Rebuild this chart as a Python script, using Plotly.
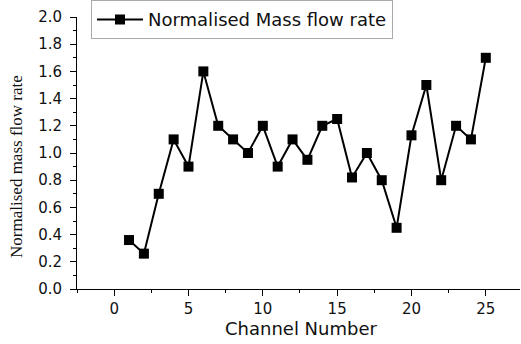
import plotly.graph_objects as go

channels = list(range(1, 26))
flow = [0.36, 0.26, 0.70, 1.10, 0.90, 1.60, 1.20, 1.10, 1.00, 1.20,
        0.90, 1.10, 0.95, 1.20, 1.25, 0.82, 1.00, 0.80, 0.45, 1.13,
        1.50, 0.80, 1.20, 1.10, 1.70]
x_ticks = [0, 5, 10, 15, 20, 25]
y_ticks = [0.0, 0.2, 0.4, 0.6, 0.8, 1.0, 1.2, 1.4, 1.6, 1.8, 2.0]

SANS = "DejaVu Sans, Arial"
SERIF = "Liberation Serif, Times New Roman"

fig = go.Figure()
fig.add_trace(go.Scatter(
    x=channels, y=flow, mode="lines+markers",
    name="Normalised Mass flow rate",
    line=dict(color="black", width=2),
    marker=dict(symbol="square", size=10, color="black"),
))

fig.update_layout(
    width=521, height=344,
    margin=dict(l=77, r=1, t=17, b=55, autoexpand=False),
    paper_bgcolor="white", plot_bgcolor="white",
    font=dict(family=SANS, color="#111111", size=15),
    showlegend=True,
    legend=dict(x=0.0316, y=0.99, xanchor="left", yanchor="middle",
                bordercolor="#aaaaaa", borderwidth=1,
                font=dict(size=18, family=SANS, color="#111111"),
                bgcolor="white", tracegroupgap=0, itemwidth=46),
    xaxis=dict(range=[-2.5, 27.3], tickvals=x_ticks,
               ticktext=[str(v) for v in x_ticks],
               showline=True, linecolor="black", linewidth=1,
               ticks="outside", ticklen=6, tickcolor="black",
               minor=dict(ticks="outside", dtick=2.5, tick0=0, ticklen=3, tickcolor="black"),
               showgrid=False, zeroline=False, automargin=False),
    yaxis=dict(range=[0, 2.0], tickvals=y_ticks,
               ticktext=[f"{v:.1f}" for v in y_ticks],
               showline=True, linecolor="black", linewidth=1,
               ticks="outside", ticklen=6, tickcolor="black",
               ticklabelstandoff=5,
               minor=dict(ticks="outside", dtick=0.1, ticklen=3, tickcolor="black"),
               showgrid=False, zeroline=False, automargin=False),
    annotations=[
        dict(text="Channel Number", xref="paper", yref="paper",
             x=0.506, y=-0.147, xanchor="center", yanchor="middle",
             showarrow=False, font=dict(size=18, family=SANS, color="#111111")),
        dict(text="Normalised mass flow rate", xref="paper", yref="paper",
             x=-0.138, y=0.452, xanchor="center", yanchor="middle",
             textangle=-90, showarrow=False,
             font=dict(size=17, family=SERIF, color="#111111")),
    ],
)

fig.write_html("out.html",
               config={"displayModeBar": False},
               post_script="document.body.style.margin='0px';document.body.style.overflow='hidden';")
